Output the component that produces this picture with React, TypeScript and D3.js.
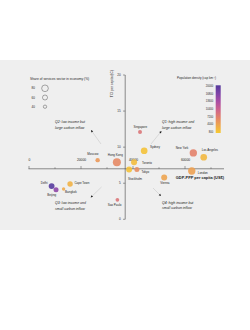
import * as d3 from "d3";

// City values
const cities = [
  "Delhi", "Beijing", "Bangkok", "Cape Town", "Moscow", "Hong Kong", "Sao Paulo", "Singapore",
  "Sydney", "Toronto", "Stockholm", "Tokyo", "Vienna", "New York", "Los Angeles", "London",
];
const gdpPerCapita = [8700, 10400, 13300, 15800, 26400, 33800, 34000, 42700, 44300, 40400, 38500, 41500, 52000, 63200, 67200, 62600];
const tciPerCapita = [4.6, 4.1, 4.2, 4.9, 8.2, 7.9, 2.7, 12.1, 9.5, 7.9, 6.9, 6.9, 5.8, 9.2, 8.6, 6.7];
const servicesShare = [70, 60, 40, 65, 53, 96, 44, 48, 80, 72, 72, 60, 72, 88, 80, 88];
const popDensity = [19800, 15500, 3600, 3000, 5200, 6400, 8300, 8300, 1500, 2000, 1600, 6000, 4200, 7000, 2400, 4400];

// Axis ticks and legend entries
const gdpTicks = [0, 20000, 40000, 60000];
const gdpMinorTicks = [10000, 30000, 50000, 70000];
const tciTicks = [0, 5, 10, 15, 20];
const shareLegend = [80, 60, 40];
const densityTicks = [20000, 16800, 13600, 10400, 7200, 4000, 800];
const densityColors = ["#553a9c", "#7c43a8", "#a84ea6", "#cc628f", "#e2806c", "#eea64e", "#f6ca32"];

// Where the axes cross
const GDP_CROSS = 37000;
const TCI_CROSS = 7;

const labelPos: Record<string, { dx: number; dy: number; anchor: string }> = {
  Delhi: { dx: -4, dy: -1.8, anchor: "end" },
  Beijing: { dx: -4.3, dy: 6, anchor: "middle" },
  Bangkok: { dx: 1.5, dy: 4, anchor: "start" },
  "Cape Town": { dx: 4.3, dy: -0.3, anchor: "start" },
  Moscow: { dx: 0.7, dy: -4.7, anchor: "end" },
  "Hong Kong": { dx: -1.5, dy: -6, anchor: "middle" },
  "Sao Paulo": { dx: -2.8, dy: 6.6, anchor: "middle" },
  Singapore: { dx: 0.3, dy: -4, anchor: "middle" },
  Sydney: { dx: 5.7, dy: -2.4, anchor: "start" },
  Toronto: { dx: 8, dy: 1.4, anchor: "start" },
  Stockholm: { dx: -1, dy: 10.7, anchor: "start" },
  Tokyo: { dx: 4.5, dy: 3.2, anchor: "start" },
  Vienna: { dx: 0.7, dy: 7, anchor: "middle" },
  "New York": { dx: -5, dy: -4.4, anchor: "end" },
  "Los Angeles": { dx: -2, dy: -6.3, anchor: "start" },
  London: { dx: 6, dy: 2.7, anchor: "start" },
};

const FONT = "Liberation Sans, Arial, sans-serif";
const AXIS = "#444";
const INK = "#262626";

export default function App() {
  const x = d3.scaleLinear().domain([0, 75000]).range([29, 224]);
  const y = d3.scaleLinear().domain([0, 20]).range([219.3, 75]);
  const r = d3.scaleLinear().domain([0, 100]).range([0, 4.17]);
  const color = d3
    .scaleLinear<string>()
    .domain(densityTicks)
    .range(densityColors)
    .interpolate(d3.interpolateRgb)
    .clamp(true);
  const cb = d3.scaleLinear().domain([800, 20000]).range([132, 86]);

  const x0 = x(GDP_CROSS);
  const y0 = y(TCI_CROSS);

  const points = cities.map((c, i) => ({
    city: c,
    cx: x(gdpPerCapita[i]),
    cy: y(tciPerCapita[i]),
    r: r(servicesShare[i]),
    fill: color(popDensity[i]),
  }));

  // quadrant notes: text anchor, arrow tip, line end
  const notes = [
    { lines: ["Q2: low income but", "large carbon inflow"], tx: 55, ty: 123, tip: [91, 130], end: [101, 144] },
    { lines: ["Q1: high income and", "large carbon inflow"], tx: 162, ty: 123, tip: [161.5, 131], end: [151, 144] },
    { lines: ["Q3: low income and", "small carbon inflow"], tx: 55, ty: 204, tip: [90.7, 197.5], end: [101.5, 187] },
    { lines: ["Q4: high income but", "small carbon inflow"], tx: 162, ty: 203.5, tip: [161, 196], end: [153, 188] },
  ];

  return (
    <svg
      width={250}
      height={330}
      style={{ position: "absolute", left: 0, top: 0, background: "#fff" }}
      fontFamily={FONT}
    >
      <defs>
        <linearGradient id="densGrad" x1="0" y1="1" x2="0" y2="0">
          {densityTicks
            .slice()
            .reverse()
            .map((d) => (
              <stop key={d} offset={(d - 800) / 19200} stopColor={color(d)} />
            ))}
        </linearGradient>
      </defs>
      <rect x={0} y={60} width={250} height={170} fill="#efefef" />

      {/* y axis */}
      <line x1={x0} x2={x0} y1={y(0)} y2={y(20)} stroke={AXIS} strokeWidth={0.6} />
      {tciTicks.map((t) => (
        <g key={t}>
          <line x1={x0 - 2.2} x2={x0} y1={y(t)} y2={y(t)} stroke={AXIS} strokeWidth={0.5} />
          <text x={x0 - 4.5} y={y(t) + 1.1} fontSize={3.1} textAnchor="end" fill={INK}>
            {t}
          </text>
        </g>
      ))}
      <text
        transform={`translate(${x0 - 12.3},${y(20) - 5}) rotate(-90)`}
        fontSize={3.3}
        textAnchor="end"
        fill={INK}
      >
        TCI per capita (tC)
      </text>

      {/* x axis */}
      <line x1={x(0) - 0.5} x2={x(75000)} y1={y0} y2={y0} stroke={AXIS} strokeWidth={0.6} />
      {gdpTicks.map((t) => (
        <g key={t}>
          <line x1={x(t)} x2={x(t)} y1={y0} y2={y0 - 2.8} stroke={AXIS} strokeWidth={0.5} />
          <text x={x(t) + 0.5} y={y0 - 8} fontSize={3.3} textAnchor="middle" fill={INK}>
            {t}
          </text>
        </g>
      ))}
      {gdpMinorTicks.map((t) => (
        <line key={t} x1={x(t)} x2={x(t)} y1={y0} y2={y0 - 1.5} stroke={AXIS} strokeWidth={0.5} />
      ))}
      <text x={x(75000)} y={y0 + 10.3} fontSize={3.9} fontWeight="bold" textAnchor="end" fill="#1a1a1a">
        GDP-PPP per capita (US$)
      </text>

      {/* quadrant notes */}
      {notes.map((n, i) => {
        const [tx, ty] = n.tip;
        const [ex, ey] = n.end;
        const ang = Math.atan2(ty - ey, tx - ex);
        const a = 2.2;
        const w = 1.1;
        const bx = tx - a * Math.cos(ang);
        const by = ty - a * Math.sin(ang);
        const head = [
          [tx, ty],
          [bx + w * Math.sin(ang), by - w * Math.cos(ang)],
          [bx - w * Math.sin(ang), by + w * Math.cos(ang)],
        ];
        return (
          <g key={i}>
            <line x1={ex} y1={ey} x2={bx} y2={by} stroke="#b5b5b5" strokeWidth={0.4} />
            <path d={`M${head.map((p) => p.join(",")).join("L")}Z`} fill="#111" />
            {n.lines.map((l, j) => (
              <text key={j} x={n.tx} y={n.ty + j * 5.5} fontSize={3.5} fontStyle="italic" fill={INK}>
                {l}
              </text>
            ))}
          </g>
        );
      })}

      {/* cities */}
      {points.map((p) => (
        <circle key={p.city} cx={p.cx} cy={p.cy} r={p.r} fill={p.fill} fillOpacity={0.9} />
      ))}
      {points.map((p) => {
        const lp = labelPos[p.city];
        return (
          <text
            key={p.city}
            x={p.cx + lp.dx}
            y={p.cy + lp.dy}
            fontSize={3}
            textAnchor={lp.anchor}
            fill={INK}
          >
            {p.city}
          </text>
        );
      })}

      {/* size legend */}
      <text x={30} y={80.2} fontSize={3.3} fill={INK}>
        Share of services sector in economy (%)
      </text>
      {shareLegend.map((s, i) => (
        <g key={s}>
          <text x={33.3} y={88.3 + i * 9.2 + 1.1} fontSize={3.1} textAnchor="middle" fill={INK}>
            {s}
          </text>
          <circle cx={45} cy={88.3 + i * 9.2} r={r(s)} fill="none" stroke="#444" strokeWidth={0.45} />
        </g>
      ))}

      {/* density colour bar */}
      <text x={216} y={79} fontSize={3} textAnchor="end" fill={INK}>
        Population density (cap km⁻²)
      </text>
      <rect x={215.7} y={85.3} width={5} height={47.7} fill="url(#densGrad)" />
      {densityTicks.map((d) => (
        <text key={d} x={213.3} y={cb(d) + 1} fontSize={2.7} textAnchor="end" fill={INK}>
          {d}
        </text>
      ))}
    </svg>
  );
}
